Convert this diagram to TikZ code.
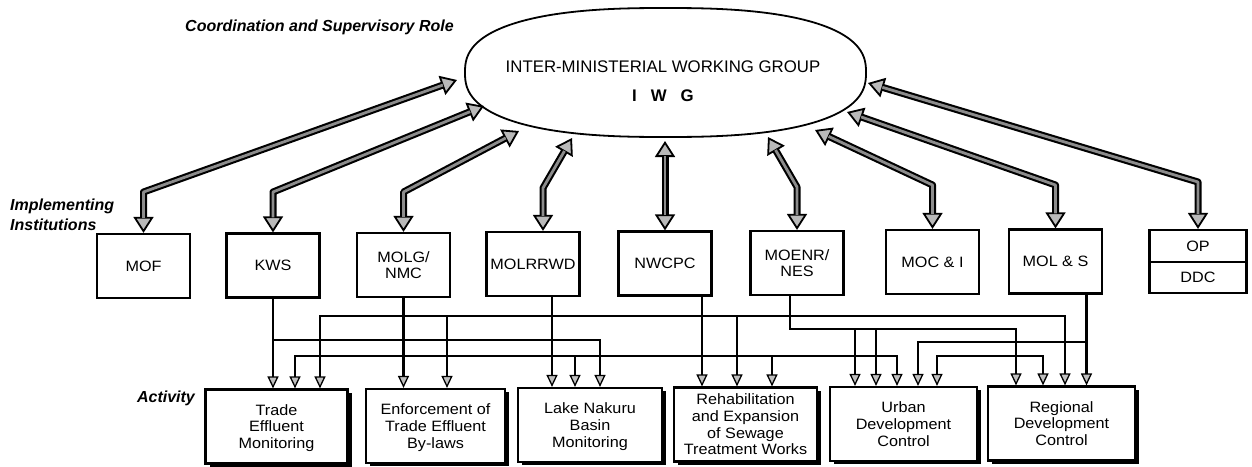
\documentclass[tikz,border=0pt]{standalone}
\usepackage{fontspec}
\setmainfont{Liberation Sans}
\newfontfamily\hvx[FakeStretch=1.08]{Liberation Sans}
\usetikzlibrary{arrows.meta,calc,shadows}
\begin{document}
\begin{tikzpicture}[x=1pt,y=-1pt,
  bigtip/.tip={Triangle[length=16pt,width=20pt,fill=gray!55,color=black,line width=1.8pt]},
  smalltip/.tip={Triangle[length=12pt,width=11pt,fill=gray!50,color=black,line width=1.3pt]},
  inst/.style={draw=black, line width=2.2pt, minimum width=93pt, minimum height=64pt, inner sep=0pt,
    font=\hvx\fontsize{15}{16}\selectfont, align=center},
  act/.style={draw=black, line width=2.2pt, fill=white, minimum width=142pt, minimum height=74pt, inner sep=0pt,
    font=\hvx\fontsize{15}{16.7}\selectfont, align=center, text depth=-6pt,
    drop shadow={shadow xshift=4pt, shadow yshift=-3pt, opacity=1, fill=black}},
  role/.style={font=\fontsize{16}{20}\selectfont\bfseries\itshape, align=left, inner sep=0pt},
  big/.style={line width=7pt, draw=black, line join=round, arrows={bigtip-bigtip},
    postaction={draw=black!45, line width=2.8pt, arrows=-, shorten <=15pt, shorten >=15pt}},
  link/.style={line width=2.8pt, draw=black, arrows={-smalltip}},
  linkb/.style={line width=2.8pt, draw=black, arrows={smalltip-smalltip}}
]
\useasboundingbox (0,0) rectangle (1252,466);
\fill[white] (0,0) rectangle (1252,466);

% --- labels
\node[role, anchor=west] (coordl) at (185,27) {Coordination and Supervisory Role};
\node[role, anchor=west] (impl) at (10,215) {Implementing\\Institutions};
\node[role] (actl) at (166,398) {Activity};

% --- IWG
\draw[line width=1.8pt]
  plot[domain=0.2:89.8, samples=45, variable=\t] ({665.5+200.5*pow(cos(\t),0.8)}, {72.5-64.5*pow(sin(\t),0.8)})
  -- plot[domain=90.2:179.8, samples=45, variable=\t] ({665.5-200.5*pow(-cos(\t),0.8)}, {72.5-64.5*pow(sin(\t),0.8)})
  -- plot[domain=180.2:269.8, samples=45, variable=\t] ({665.5-200.5*pow(-cos(\t),0.8)}, {72.5+64.5*pow(-sin(\t),0.8)})
  -- plot[domain=270.2:359.8, samples=45, variable=\t] ({665.5+200.5*pow(cos(\t),0.8)}, {72.5+64.5*pow(-sin(\t),0.8)})
  -- cycle;
\node[align=center, inner sep=0pt] (iwg) at (663,81)
  {\fontsize{16.8}{17}\selectfont INTER-MINISTERIAL WORKING GROUP\\[17pt]
   \fontsize{16.8}{17}\selectfont\bfseries I\hspace{14pt}W\hspace{14pt}G};

% --- institutions
\node[inst] (mof) at (143.5,266) {MOF};
\node[inst] (kws) at (273,265.5) {KWS};
\node[inst] (molg) at (403.5,265) {MOLG/\\NMC};
\node[inst] (molr) at (533,264) {MOLRRWD};
\node[inst] (nwcpc) at (665,263.5) {NWCPC};
\node[inst] (moenr) at (797,263) {MOENR/\\NES};
\node[inst] (moci) at (932.5,262) {MOC \& I};
\node[inst] (mols) at (1055.5,261.5) {MOL \& S};
\node[inst, minimum width=97pt, minimum height=32pt] (op) at (1198,246) {OP};
\node[inst, minimum width=97pt, minimum height=31pt] (ddc) at (1198,277.5) {DDC};

% --- activities
\node[act] (trade) at (276.5,426.5) {Trade\\Effluent\\Monitoring};
\node[act, minimum width=139pt] (enf) at (435.5,426) {Enforcement of\\Trade Effluent\\By-laws};
\node[act, minimum width=144pt] (lake) at (590,425) {Lake Nakuru\\Basin\\Monitoring};
\node[act, minimum width=143pt] (rehab) at (745.5,424.5) {Rehabilitation\\and Expansion\\of Sewage\\Treatment Works};
\node[act, minimum width=147pt] (urban) at (903.5,424) {Urban\\Development\\Control};
\node[act, minimum width=147pt] (reg) at (1061.5,423.5) {Regional\\Development\\Control};

% --- coordination arrows
\coordinate (e1) at ($(iwg.center)+(-206,-1)$);
\coordinate (e2) at ($(iwg.center)+(-179,25)$);
\coordinate (e3) at ($(iwg.center)+(-144,50)$);
\coordinate (e4) at ($(iwg.center)+(-91,57)$);
\coordinate (e5) at ($(iwg.center)+(2,60)$);
\coordinate (e6) at ($(iwg.center)+(105,56)$);
\coordinate (e7) at ($(iwg.center)+(152,49)$);
\coordinate (e8) at ($(iwg.center)+(184,31)$);
\coordinate (e9) at ($(iwg.center)+(205,2)$);
\draw[big] (e1) -- (mof.north |- 0,192) -- (mof.north);
\draw[big] (e2) -- (kws.north |- 0,192) -- (kws.north);
\draw[big] (e3) -- (molg.north |- 0,192) -- (molg.north);
\draw[big] (e4) -- ($(molr.north |- 0,188)+(10,0)$) -- ($(molr.north)+(10,0)$);
\draw[big] (nwcpc.north |- e5) -- (nwcpc.north);
\draw[big] (e6) -- (moenr.north |- 0,187) -- (moenr.north);
\draw[big] (e7) -- (moci.north |- 0,185) -- (moci.north);
\draw[big] (e8) -- (mols.north |- 0,185) -- (mols.north);
\draw[big] (e9) -- (op.north |- 0,182) -- (op.north);

% --- implementation network
\coordinate (molrout) at ($(molr.south)+(19,0)$);
\coordinate (nwout) at ($(nwcpc.south)+(37,0)$);
\coordinate (moeout) at ($(moenr.south)+(-7,0)$);
\coordinate (molsout) at ($(mols.south)+(31,0)$);

\draw[link] (kws.south) -- (kws.south |- trade.north);
\draw[link] (molg.south) -- (molg.south |- enf.north);
\draw[link] (molrout) -- (molrout |- lake.north);
\draw[link] (nwout) -- (nwout |- rehab.north);
\draw[link] (molsout) -- (molsout |- reg.north);
\draw[link] (moeout) -- (moeout |- 0,329) -- (1016,329) -- (1016,0 |- reg.north);
\draw[linkb] (320,0 |- trade.north) -- (320,316) -- (1065,316) -- (1065,0 |- reg.north);
\draw[link] (kws.south |- 0,340) -- (600,340) -- (600,0 |- lake.north);
\draw[linkb] (295,0 |- trade.north) -- (295,356) -- (897,356) -- (897,0 |- urban.north);
\draw[link] (molsout |- 0,342) -- (918,342) -- (918,0 |- urban.north);
\draw[linkb] (937,0 |- urban.north) -- (937,356) -- (1043,356) -- (1043,0 |- reg.north);
\draw[link] (447,316) -- (447,0 |- enf.north);
\draw[link] (737,316) -- (737,0 |- rehab.north);
\draw[link] (575,356) -- (575,0 |- lake.north);
\draw[link] (772,356) -- (772,0 |- rehab.north);
\draw[link] (855,329) -- (855,0 |- urban.north);
\draw[link] (876,329) -- (876,0 |- urban.north);
\end{tikzpicture}
\end{document}
